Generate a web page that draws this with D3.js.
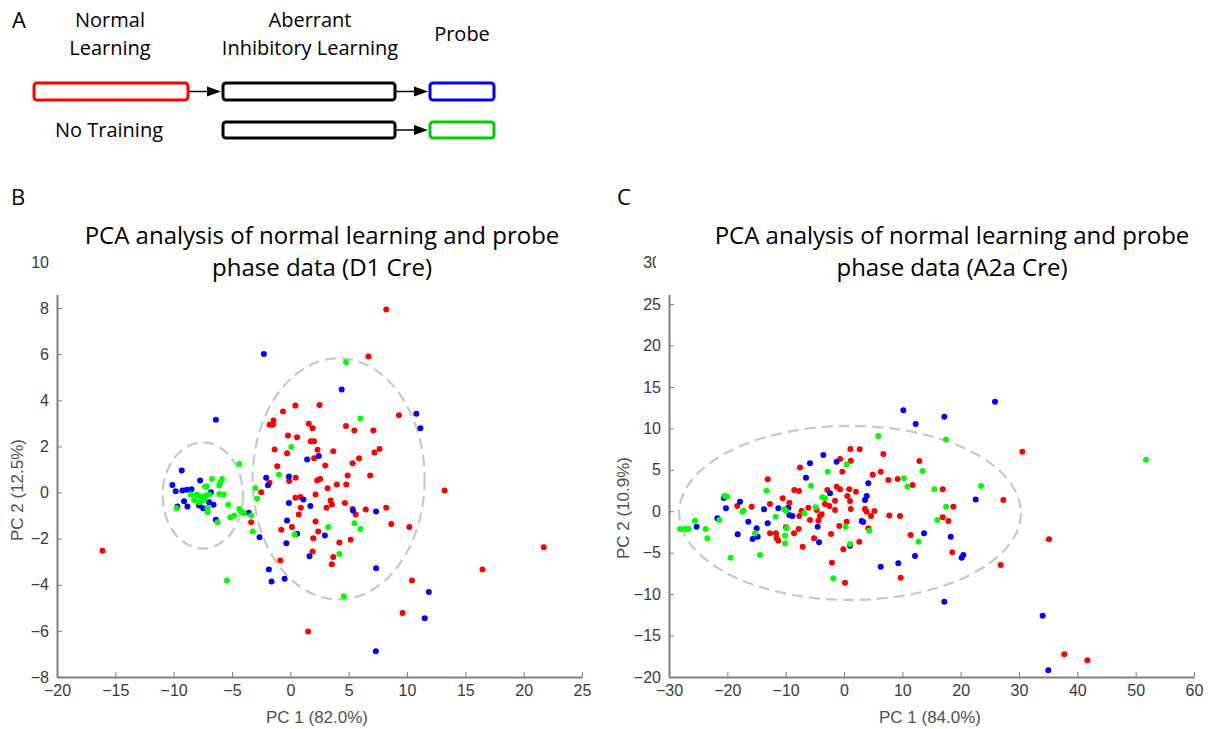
<!DOCTYPE html>
<html>
<head>
<meta charset="utf-8">
<style>
  body { margin: 0; background: #fff; }
  .axis .tick text { font-family: "Liberation Sans", Arial, sans-serif; font-size: 16px; fill: #3a3a3a; }
  .axis path, .axis line { stroke: #808080; }
  .axis path { stroke-width: 2; }
  .lbl { font-family: "Liberation Sans", Arial, sans-serif; font-size: 17px; fill: #505050; }
  .cal { font-family: "Open Sans", sans-serif; fill: #000; }
</style>
<script src="https://cdnjs.cloudflare.com/ajax/libs/d3/7.8.5/d3.min.js"></script>
</head>
<body>
<svg width="1213" height="729"></svg>
<script>
// ---- panel B data (D1 Cre) : [PC1, PC2]
var redB = [[0.43,3.77],[2.5,3.8],[-0.63,3.51],[-1.44,3.12],[-1.78,2.94],[-1.49,2.94],[1.58,2.98],[1.9,2.79],
  [4.77,2.88],[5.49,2.69],[7.12,2.69],[9.31,3.35],[-0.2,2.47],[0.58,2.4],[1.75,2.22],[2.04,2.22],[-1.35,1.86],
  [-0.28,1.7],[2.33,1.85],[3.68,1.79],[7.21,1.73],[7.65,1.89],[2.04,1.49],[5.34,1.27],[5.89,1.49],[2.99,1.17],
  [-1.12,1.14],[0.46,0.64],[2.3,0.52],[2.56,0.59],[4.91,0.74],[6.84,0.74],[3.99,0.35],[4.8,0.35],[3.19,0.19],
  [-2.5,0.01],[-1.78,0.42],[2.16,-0.09],[0.43,-0.23],[0.86,-0.2],[3.45,-0.35],[3.56,-0.52],[3.1,-0.66],
  [4.68,-0.46],[5.34,-0.71],[5.6,-0.95],[6.47,-0.74],[8.22,-0.66],[0.72,-0.95],[-3.36,-1.29],[8.65,-1.37],
  [10.2,-1.5],[2.16,-1.26],[0.14,-1.5],[-0.78,-1.62],[2.39,-1.69],[1.96,-1.98],[5.17,-2.05],[4.2,-2.17],
  [1.9,-2.56],[3.68,-2.8],[3.56,-3.11],[-0.86,-2.95],[10.43,-3.82],[13.22,0.09],[21.72,-2.37],[16.47,-3.34],
  [9.62,-5.23],[1.53,-6.03],[-16.1,-2.52],[8.22,7.94],[6.7,5.9],[-0.1,0.5],[0.9,-0.66]];
var blueB = [[4.4,4.47],[-6.38,3.15],[10.8,3.41],[11.15,2.79],[1.44,1.43],[2.44,1.58],[-9.31,0.95],[-10.11,0.33],
  [-9.83,0.06],[-9.25,0.09],[-8.88,0.12],[-8.47,0.14],[-7.73,0.52],[-6.81,0.01],[-9.11,-0.38],[-9.68,-0.61],
  [-8.82,-0.61],[-7.82,-0.56],[-6.96,-0.42],[-6.58,-0.53],[-7.47,-0.68],[-6.38,-1.18],[-2.07,0.64],[-1.92,0.32],
  [-0.12,0.69],[-3.56,-0.88],[-0.12,-0.45],[1.12,-0.3],[1.72,-0.59],[5.37,-0.78],[7.35,-0.82],[-0.28,-1.21],
  [0.58,-1.79],[-0.34,-2.2],[-2.64,-1.94],[2.96,-1.86],[1.64,-2.76],[-1.84,-3.34],[-1.61,-3.86],[-0.49,-3.74],
  [7.35,-3.28],[11.87,-4.31],[11.52,-5.45],[7.33,-6.88],[-2.27,6.01]];
var greenB = [[6.0,3.21],[0.09,1.97],[-4.37,1.24],[-0.98,0.77],[-6.72,0.59],[-5.86,0.59],[-6.0,0.45],[-7.16,0.26],
  [-7.3,0.26],[-6.09,0.3],[-8.53,-0.09],[-8.02,-0.09],[-7.67,-0.17],[-7.24,-0.13],[-6.96,-0.09],[-6.09,-0.06],
  [-5.72,-0.09],[-8.25,-0.32],[-7.39,-0.32],[-7.82,-0.42],[-7.1,-0.66],[-7.1,-0.85],[-9.74,-0.68],[-6.24,-1.29],
  [-5.32,-0.53],[-5.14,-1.07],[-4.8,-1.0],[-4.37,-0.71],[-4.22,-0.82],[-3.99,-0.9],[-3.36,-1.0],[-2.99,0.2],
  [-2.84,-0.27],[-3.22,-1.69],[-5.43,-3.82],[0.37,-1.82],[3.25,-1.5],[5.49,-1.33],[6.0,-1.58],[4.2,-2.67],
  [4.59,-4.5],[4.77,5.65]];
// cluster ellipses [cx, cy, rx, ry]
var ellB = [[-7.5,-0.13,3.45,2.3],[4.14,0.59,7.37,5.23]];
var xTicksB = [-20,-15,-10,-5,0,5,10,15,20,25];
var yTicksB = [-8,-6,-4,-2,0,2,4,6,8,10];

// ---- panel C data (A2a Cre)
var redC = [[1.09,7.5],[2.69,7.47],[6.74,6.9],[-0.66,6.3],[1.17,6.09],[-7.54,5.29],[-0.29,4.77],[4.92,4.4],
  [6.29,4.77],[7.6,3.76],[9.2,3.88],[11.78,3.16],[12.92,6.06],[-13.08,3.85],[-8.52,2.56],[-7.71,2.44],
  [-2.86,2.56],[-1.26,2.96],[-0.69,2.64],[0.91,2.64],[2.06,2.35],[0.57,1.83],[1.03,1.23],[-1.54,1.27],
  [-10.51,1.56],[-9.37,1.03],[-12.69,0.87],[-15.83,0.54],[-18.29,0.63],[-3.26,0.87],[-2.51,0.63],[-6.11,0.42],
  [-7.26,0.06],[-4.68,0.14],[-3.83,-0.37],[-1.54,0.14],[1.17,0.26],[3.6,0.26],[3.89,-0.06],[5.2,0.02],
  [4.63,-0.58],[7.77,-0.5],[9.6,-0.58],[-7.66,-0.58],[-5.83,-1.06],[-4.4,-1.15],[-4.11,-0.58],[-7.77,-2.15],
  [-9.94,-1.94],[-12.69,-2.67],[-11.66,-2.67],[-11.54,-3.27],[-11.26,-3.56],[-8.57,-2.67],[-7.09,-4.28],
  [-5.14,-3.27],[-2.23,-2.75],[-0.8,-1.79],[0.46,-1.27],[2.63,-3.68],[4.17,-2.06],[-0.12,-4.6],[-2.06,-6.21],
  [0.17,-8.63],[9.72,-8.02],[11.43,-2.87],[16.92,2.64],[30.57,7.18],[18.74,0.54],[16.92,-0.74],[17.89,-1.18],
  [27.32,1.35],[18.57,-4.96],[35.14,-3.39],[26.86,-6.49],[37.77,-17.27],[41.72,-17.99]];
var blueC = [[-3.54,6.78],[-5.83,5.78],[-1.26,5.97],[-6.51,4.04],[-17.83,1.15],[-20.23,0.35],[-21.71,-0.86],
  [-25.26,-1.87],[-16.4,-1.27],[-14.97,-2.06],[-14.8,-3.08],[-15.66,-3.35],[-18.23,-2.79],[-13.71,0.23],
  [-13.08,-1.46],[-11.26,0.35],[-9.54,0.42],[-9.37,-0.46],[-8.86,-0.58],[-4.51,-1.87],[-4.28,-3.75],[-2.4,2.16],
  [1.03,-4.16],[4.17,3.37],[3.6,1.35],[3.89,1.83],[3.03,-1.18],[3.3,-1.3],[6.29,-6.69],[9.31,-6.29],[12.17,-5.4],
  [12.29,10.52],[10.17,12.2],[25.89,13.21],[17.2,11.4],[22.58,1.43],[13.72,-2.67],[18.29,-3.08],[20.17,-5.61],
  [20.46,-5.28],[34.06,-12.6],[35.03,-19.2],[17.2,-10.92],[-20.6,1.6]];
var greenC = [[5.88,9.07],[-2.8,4.77],[-5.66,3.08],[-13.25,2.47],[-20.52,1.87],[-20.0,1.75],[-17.43,-0.06],
  [-17.2,0.1],[-21.37,-1.06],[-25.54,-1.15],[-28.11,-2.15],[-27.26,-2.15],[-26.69,-2.15],[-23.71,-2.15],
  [-23.43,-3.27],[-19.42,-5.61],[-14.4,-5.28],[-15.26,-2.67],[-11.71,-0.66],[-10.23,0.23],[-9.94,0.02],
  [-9.83,-2.06],[-10.11,-2.96],[-10.11,-3.87],[-6.8,-0.25],[-4.85,0.47],[-3.72,1.68],[-3.26,1.56],[0.46,5.66],
  [0.29,-1.87],[4.34,-2.35],[1.03,-3.96],[-1.83,-8.1],[10.29,3.97],[10.86,2.96],[12.8,-3.68],[17.49,8.67],
  [13.49,4.85],[15.49,2.64],[23.49,3.04],[17.49,0.54],[16.0,-1.06],[51.78,6.2]];
var ellC = [[1.03,-0.2,29.3,10.5]];
var xTicksC = [-30,-20,-10,0,10,20,30,40,50,60];
var yTicksC = [-20,-15,-10,-5,0,5,10,15,20,25,30];

var svg = d3.select("svg");

// ---------- panel A : schematic ----------
var A = svg.append("g");
A.append("text").attr("class", "cal").attr("x", 12).attr("y", 28).style("font-size", "22px").text("A");
function label(x, y, t) {
  A.append("text").attr("class", "cal").attr("x", x).attr("y", y)
    .attr("text-anchor", "middle").style("font-size", "20px").text(t);
}
label(110, 27, "Normal"); label(110, 55, "Learning");
label(310, 27, "Aberrant"); label(310, 55, "Inhibitory Learning");
label(462, 41, "Probe");
label(109, 137, "No Training");

function box(x0, x1, y0, y1, col) {
  A.append("rect").attr("x", x0).attr("y", y0).attr("width", x1 - x0).attr("height", y1 - y0)
    .attr("rx", 3).attr("fill", "none").attr("stroke", col).attr("stroke-width", 3);
}
function arrow(x0, x1, y) {
  A.append("line").attr("x1", x0).attr("x2", x1 - 10).attr("y1", y).attr("y2", y)
    .attr("stroke", "#000").attr("stroke-width", 1.5);
  A.append("path").attr("d", "M" + (x1 - 14) + "," + (y - 5) + "L" + x1 + "," + y + "L" + (x1 - 14) + "," + (y + 5) + "Z")
    .attr("fill", "#000");
}
box(34, 188, 83, 100, "#ff0000");
box(223, 395, 83, 100, "#000");
box(430, 494, 83, 100, "#0000ff");
box(223, 395, 122, 138, "#000");
box(430, 494, 122, 138, "#00cc00");
arrow(189, 221, 91.5);
arrow(396, 428, 91.5);
arrow(396, 428, 130);

// ---------- scatter panels ----------
function panel(o) {
  var g = svg.append("g");
  var x = d3.scaleLinear().domain(o.xd).range(o.xr);
  var y = d3.scaleLinear().domain(o.yd).range(o.yr);

  g.append("g").attr("class", "axis")
    .attr("transform", "translate(0," + o.yr[0] + ")")
    .call(d3.axisBottom(x).tickValues(o.xt).tickSizeInner(-5).tickSizeOuter(0).tickPadding(8));
  g.append("g").attr("class", "axis")
    .attr("transform", "translate(" + o.xr[0] + ",0)")
    .call(d3.axisLeft(y).tickValues(o.yt).tickSizeInner(-5).tickSizeOuter(0).tickPadding(8));

  g.selectAll(".ell").data(o.ell).enter().append("ellipse")
    .attr("cx", function(d) { return x(d[0]); })
    .attr("cy", function(d) { return y(d[1]); })
    .attr("rx", function(d) { return x(d[0] + d[2]) - x(d[0]); })
    .attr("ry", function(d) { return y(d[1]) - y(d[1] + d[3]); })
    .attr("fill", "none").attr("stroke", "#c8c8c8").attr("stroke-width", 2.2)
    .attr("stroke-dasharray", "11,6");

  o.series.forEach(function(s) {
    g.selectAll(null).data(s.data).enter().append("circle")
      .attr("cx", function(d) { return x(d[0]); })
      .attr("cy", function(d) { return y(d[1]); })
      .attr("r", 3).attr("fill", s.col);
  });

  // title region hides top of the axis
  g.append("rect").attr("x", o.cover).attr("y", 230).attr("width", 1213 - o.cover).attr("height", 65)
    .attr("fill", "#fff");

  g.append("text").attr("class", "lbl").attr("x", o.xl[0]).attr("y", o.xl[1])
    .attr("text-anchor", "middle").text(o.xlab);
  g.append("text").attr("class", "lbl")
    .attr("transform", "translate(" + o.yl[0] + "," + o.yl[1] + ") rotate(-90)")
    .attr("text-anchor", "middle").attr("dy", "0.35em").text(o.ylab);

  g.append("text").attr("class", "cal").attr("x", o.tag[0]).attr("y", o.tag[1])
    .style("font-size", "22px").text(o.tagText);
  o.title.forEach(function(t, i) {
    g.append("text").attr("class", "cal").attr("x", o.tx).attr("y", 244 + i * 32)
      .attr("text-anchor", "middle").style("font-size", "24px").text(t);
  });
}

panel({
  xd: [-20, 25], xr: [57, 582], yd: [-8, 10], yr: [677, 261.9],
  xt: xTicksB, yt: yTicksB, ell: ellB, cover: 50,
  series: [{data: redB, col: "#ff0000"}, {data: blueB, col: "#0000ff"}, {data: greenB, col: "#00ff00"}],
  xlab: "PC 1 (82.0%)", xl: [317, 723], ylab: "PC 2 (12.5%)", yl: [17, 490],
  tag: [11, 205], tagText: "B", tx: 322,
  title: ["PCA analysis of normal learning and probe", "phase data (D1 Cre)"]
});
panel({
  xd: [-30, 60], xr: [669, 1194], yd: [-20, 30], yr: [677, 262.6],
  xt: xTicksC, yt: yTicksC, ell: ellC, cover: 656,
  series: [{data: redC, col: "#ff0000"}, {data: blueC, col: "#0000ff"}, {data: greenC, col: "#00ff00"}],
  xlab: "PC 1 (84.0%)", xl: [930, 723], ylab: "PC 2 (10.9%)", yl: [623, 508],
  tag: [617, 205], tagText: "C", tx: 952,
  title: ["PCA analysis of normal learning and probe", "phase data (A2a Cre)"]
});
</script>
</body>
</html>
